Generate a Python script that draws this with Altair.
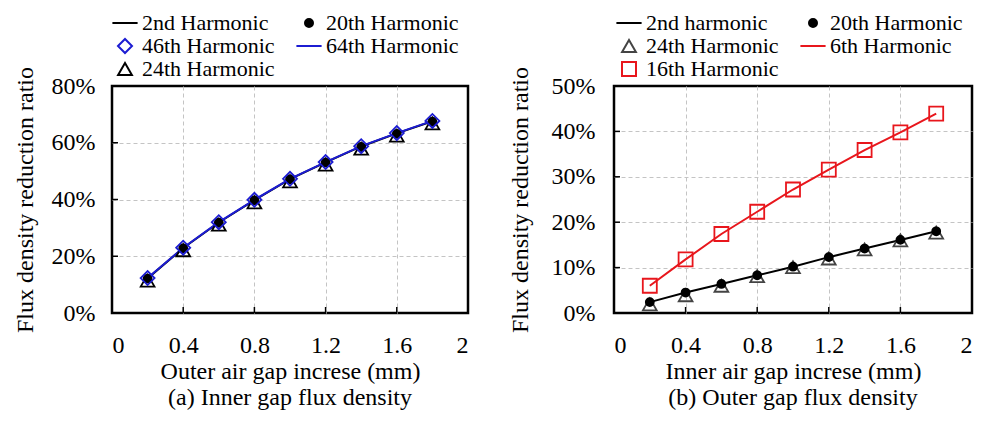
import altair as alt
import pandas as pd

FONT = "Liberation Serif"

gap_mm = [0.2, 0.4, 0.6, 0.8, 1.0, 1.2, 1.4, 1.6, 1.8]

# (a) Inner gap flux density
a_2nd_harmonic = [0.122, 0.229, 0.319, 0.398, 0.472, 0.531, 0.587, 0.633, 0.676]
a_20th_harmonic = [0.121, 0.228, 0.318, 0.397, 0.471, 0.530, 0.585, 0.631, 0.674]
a_46th_harmonic = [0.123, 0.230, 0.320, 0.399, 0.473, 0.532, 0.588, 0.634, 0.677]
a_64th_harmonic = [0.123, 0.230, 0.320, 0.399, 0.473, 0.532, 0.588, 0.634, 0.677]
a_24th_harmonic = [0.114, 0.221, 0.311, 0.390, 0.464, 0.523, 0.579, 0.625, 0.668]

# (b) Outer gap flux density
b_2nd_harmonic = [0.024, 0.045, 0.064, 0.083, 0.102, 0.123, 0.142, 0.161, 0.180]
b_20th_harmonic = [0.024, 0.045, 0.064, 0.083, 0.102, 0.123, 0.142, 0.161, 0.180]
b_24th_harmonic = [0.019, 0.039, 0.060, 0.081, 0.101, 0.120, 0.140, 0.160, 0.177]
b_6th_harmonic = [0.060, 0.118, 0.174, 0.223, 0.272, 0.316, 0.359, 0.398, 0.439]
b_16th_harmonic = [0.060, 0.118, 0.174, 0.223, 0.272, 0.316, 0.359, 0.398, 0.439]

x_tick_values = [0, 0.4, 0.8, 1.2, 1.6, 2]
a_y_tick_values = [0, 0.2, 0.4, 0.6, 0.8]
b_y_tick_values = [0, 0.1, 0.2, 0.3, 0.4, 0.5]

BLUE = "#1c1cd2"
RED = "#e8161c"
GRID = "#c4c4c4"
LINE_SYMBOL = "M-1.8,0H1.8"

H = 227


def panel(series, order, line_names, marker_draw_order, colors, fills, shapes, sizes,
          y_ticks, x_title, caption, width, lx, ly, col_pad, y_label_pad, y_title_pad):
    rows = []
    for name in series:
        for g, v in zip(gap_mm, series[name]):
            rows.append({"gap": g, "ratio": v, "series": name})
    df = pd.DataFrame(rows)
    rank = {n: i for i, n in enumerate(marker_draw_order)}
    pts = df[df["series"].isin(marker_draw_order)].copy()
    pts["rank"] = pts["series"].map(rank)
    pts = pts.sort_values("rank")

    ymax = y_ticks[-1]
    xenc = alt.X(
        "gap:Q",
        scale=alt.Scale(domain=[0, 2], nice=False, zero=False, padding=0),
        axis=alt.Axis(
            values=x_tick_values, format="~g", title=x_title,
            grid=True, gridColor=GRID, gridDash=[4, 3], gridWidth=1,
            gridOpacity={"condition": {"test": "datum.value <= 0 || datum.value >= 2", "value": 0}, "value": 1},
            ticks=False, domain=False, labelPadding=20, titlePadding=2,
        ),
    )
    yenc = alt.Y(
        "ratio:Q",
        scale=alt.Scale(domain=[0, ymax], nice=False, padding=0),
        axis=alt.Axis(
            values=y_ticks, format=".0%", title="Flux density reduction ratio",
            grid=True, gridColor=GRID, gridDash=[4, 3], gridWidth=1,
            gridOpacity={"condition": {"test": f"datum.value <= 0 || datum.value >= {ymax}", "value": 0}, "value": 1},
            ticks=False, domain=False, labelPadding=y_label_pad, titlePadding=y_title_pad,
        ),
    )

    legend = alt.Legend(
        orient="none", legendX=lx, legendY=ly, columns=2, direction="horizontal", title=None,
        labelFont=FONT, labelFontSize=22, labelColor="black", labelOffset=6,
        columnPadding=col_pad, rowPadding=1, padding=0, symbolStrokeWidth=2,
        labelLimit=300,
    )

    def sc(rng):
        return alt.Scale(domain=order, range=rng)

    layers = []
    for name in line_names:
        layers.append(
            alt.Chart(df).transform_filter(alt.datum.series == name)
            .mark_line(color=colors[order.index(name)], strokeWidth=2)
            .encode(x=xenc, y=yenc)
        )
    layers.append(
        alt.Chart(pts).mark_point(strokeWidth=1.8, opacity=1)
        .encode(
            x=xenc, y=yenc,
            shape=alt.Shape("series:N", scale=sc(shapes), legend=legend),
            stroke=alt.Stroke("series:N", scale=sc(colors), legend=legend),
            fill=alt.Fill("series:N", scale=sc(fills), legend=legend),
            size=alt.Size("series:N", scale=alt.Scale(type="ordinal", domain=order, range=sizes), legend=legend),
            order=alt.Order("rank:Q"),
        )
    )
    xt = pd.DataFrame({"gap": x_tick_values[1:-1]})
    yt = pd.DataFrame({"ratio": y_ticks[1:-1]})
    layers.append(
        alt.Chart(xt).mark_rule(color="black", strokeWidth=1.5)
        .encode(x=xenc, y=alt.value(H), y2=alt.value(H - 6))
    )
    layers.append(
        alt.Chart(yt).mark_rule(color="black", strokeWidth=1.5)
        .encode(y=yenc, x=alt.value(0), x2=alt.value(6))
    )
    return alt.layer(*layers).properties(
        width=width, height=H,
        title=alt.TitleParams(caption, orient="bottom", font=FONT, fontSize=24,
                              fontWeight="normal", color="black", offset=3),
    )


a_order = ["2nd Harmonic", "20th Harmonic", "46th Harmonic", "64th Harmonic", "24th Harmonic"]
left = panel(
    {"2nd Harmonic": a_2nd_harmonic, "20th Harmonic": a_20th_harmonic,
     "46th Harmonic": a_46th_harmonic, "64th Harmonic": a_64th_harmonic,
     "24th Harmonic": a_24th_harmonic},
    a_order,
    ["2nd Harmonic", "64th Harmonic"],
    ["24th Harmonic", "20th Harmonic", "46th Harmonic"],
    ["black", "black", BLUE, BLUE, "black"],
    ["transparent", "black", "transparent", "transparent", "transparent"],
    [LINE_SYMBOL, "circle", "diamond", LINE_SYMBOL, "triangle-up"],
    [196, 64, 196, 196, 190],
    a_y_tick_values,
    "Outer air gap increse (mm)",
    "(a) Inner gap flux density",
    356, 2, -74, 17, 17, 14,
)

b_order = ["2nd harmonic", "20th Harmonic", "24th Harmonic", "6th Harmonic", "16th Harmonic"]
right = panel(
    {"2nd harmonic": b_2nd_harmonic, "20th Harmonic": b_20th_harmonic,
     "24th Harmonic": b_24th_harmonic, "6th Harmonic": b_6th_harmonic,
     "16th Harmonic": b_16th_harmonic},
    b_order,
    ["2nd harmonic", "6th Harmonic"],
    ["24th Harmonic", "20th Harmonic", "16th Harmonic"],
    ["black", "black", "#444444", RED, RED],
    ["transparent", "black", "transparent", "transparent", "transparent"],
    [LINE_SYMBOL, "circle", "triangle-up", LINE_SYMBOL, "square"],
    [196, 64, 190, 196, 196],
    b_y_tick_values,
    "Inner air gap increse (mm)",
    "(b) Outer gap flux density",
    358, 4, -74, 17, 19, 19,
)

chart = (
    alt.hconcat(left, right, spacing=36)
    .resolve_scale(shape="independent", stroke="independent", fill="independent", size="independent")
    .properties(padding={"left": 3, "top": 2, "right": 0, "bottom": 0})
    .configure(font=FONT)
    .configure_view(stroke="black", strokeWidth=2.5)
    .configure_axis(labelFont=FONT, labelFontSize=24, labelColor="black",
                    titleFont=FONT, titleFontSize=24, titleFontWeight="normal", titleColor="black")
)

chart.save("out.html", embed_options={"renderer": "svg", "actions": False})
